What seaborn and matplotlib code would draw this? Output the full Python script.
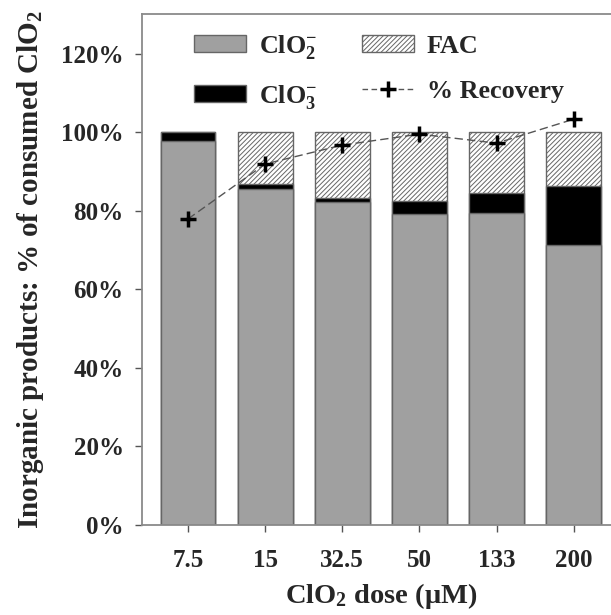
import numpy as np
import pandas as pd
import matplotlib
matplotlib.use("Agg")
import matplotlib.pyplot as plt
import seaborn as sns
from matplotlib.patches import Patch
from matplotlib.lines import Line2D

# Inorganic product distribution (% of consumed ClO2) per ClO2 dose
doses = ["7.5", "15", "32.5", "50", "133", "200"]
chlorite = [97.7, 85.5, 82.2, 79.1, 79.4, 71.2]
chlorate = [2.3, 1.3, 1.0, 3.3, 5.1, 15.1]
fac = [0.0, 13.2, 16.8, 17.6, 15.5, 13.7]
recovery = [77.9, 91.9, 96.7, 99.5, 97.2, 103.3]

sns.set_theme(style="white")
plt.rcParams["font.family"] = ["Liberation Serif", "DejaVu Serif"]
plt.rcParams["font.weight"] = "bold"
plt.rcParams["mathtext.fontset"] = "custom"
plt.rcParams["mathtext.rm"] = "Liberation Serif:bold"
plt.rcParams["mathtext.bf"] = "Liberation Serif:bold"
plt.rcParams["mathtext.it"] = "Liberation Serif:bold:italic"
plt.rcParams["hatch.linewidth"] = 0.7
plt.rcParams["hatch.color"] = "#505050"

df = pd.DataFrame({
    "dose": doses,
    "chlorite": chlorite,
    "chlorate": chlorate,
    "fac": fac,
    "recovery": recovery,
})
df["lvl2"] = df["chlorite"] + df["chlorate"]
df["lvl3"] = df["lvl2"] + df["fac"]

fig = plt.figure(figsize=(6.11, 6.15), dpi=100)
W, H = 611, 615
ax = fig.add_axes([141.7 / W, 1 - 525 / H, (620 - 141.7) / W, (525 - 14.3) / H])

edge = "#666666"
bw = 0.71
hatch = "///////"
# cumulative layers, tallest first so each shorter one sits on top
sns.barplot(data=df, x="dose", y="lvl3", ax=ax, color="white", width=bw,
            edgecolor=edge, linewidth=1.0, hatch=hatch, saturation=1)
sns.barplot(data=df, x="dose", y="lvl2", ax=ax, color="black", width=bw,
            edgecolor=edge, linewidth=1.0, saturation=1)
sns.barplot(data=df, x="dose", y="chlorite", ax=ax, color="#a0a0a0", width=bw,
            edgecolor=edge, linewidth=1.0, saturation=1)

pos = np.arange(len(doses))
ax.plot(pos, df["recovery"], linestyle=(0, (6, 3)), color="#555555", lw=1.0,
        marker="+", markersize=12, markeredgewidth=2.5, markeredgecolor="black", zorder=5)

ax.set_xlim(-0.6, 5.6)
ax.set_ylim(0, 130)
ax.set_yticks(np.arange(0, 121, 20))
ax.set_yticklabels([f"{v}%" for v in range(0, 121, 20)])
ax.set_xticks(pos)
ax.set_xticklabels(doses)

fs = 18
ax.tick_params(axis="both", labelsize=fs, direction="out", length=5, width=1.0,
               color="#555555", left=True, bottom=True)
ax.tick_params(axis="x", pad=12)
ax.tick_params(axis="y", pad=8)
for lab in ax.get_xticklabels() + ax.get_yticklabels():
    lab.set_fontweight("bold")

for side in ["left", "bottom", "top", "right"]:
    ax.spines[side].set_color("#8a8a8a")
    ax.spines[side].set_linewidth(1.3)

ax.set_xlabel("ClO$_2$ dose (\u03bcM)", fontsize=20.5, fontweight="bold", labelpad=7)
ax.set_ylabel("Inorganic products: % of consumed ClO$_2$", fontsize=21,
              fontweight="bold", labelpad=11)

handles = [
    Patch(facecolor="#a0a0a0", edgecolor=edge, label="ClO$_2^{-}$"),
    Patch(facecolor="black", edgecolor=edge, label="ClO$_3^{-}$"),
    Patch(facecolor="white", edgecolor=edge, hatch=hatch, label="FAC"),
    Line2D([0], [0], linestyle=(0, (4, 2.5)), color="#555555", lw=1.0, marker="+",
           markersize=12, markeredgewidth=2.5, markeredgecolor="black", label="% Recovery"),
]
leg = ax.legend(handles=handles, ncol=2, frameon=False, fontsize=18.8,
                loc="upper left", bbox_to_anchor=(0.06, 1.01),
                handlelength=2.0, handleheight=0.6, labelspacing=0.85,
                columnspacing=1.7, handletextpad=0.5)
for t in leg.get_texts():
    t.set_fontweight("bold")

fig.savefig("out.png", dpi=100)
